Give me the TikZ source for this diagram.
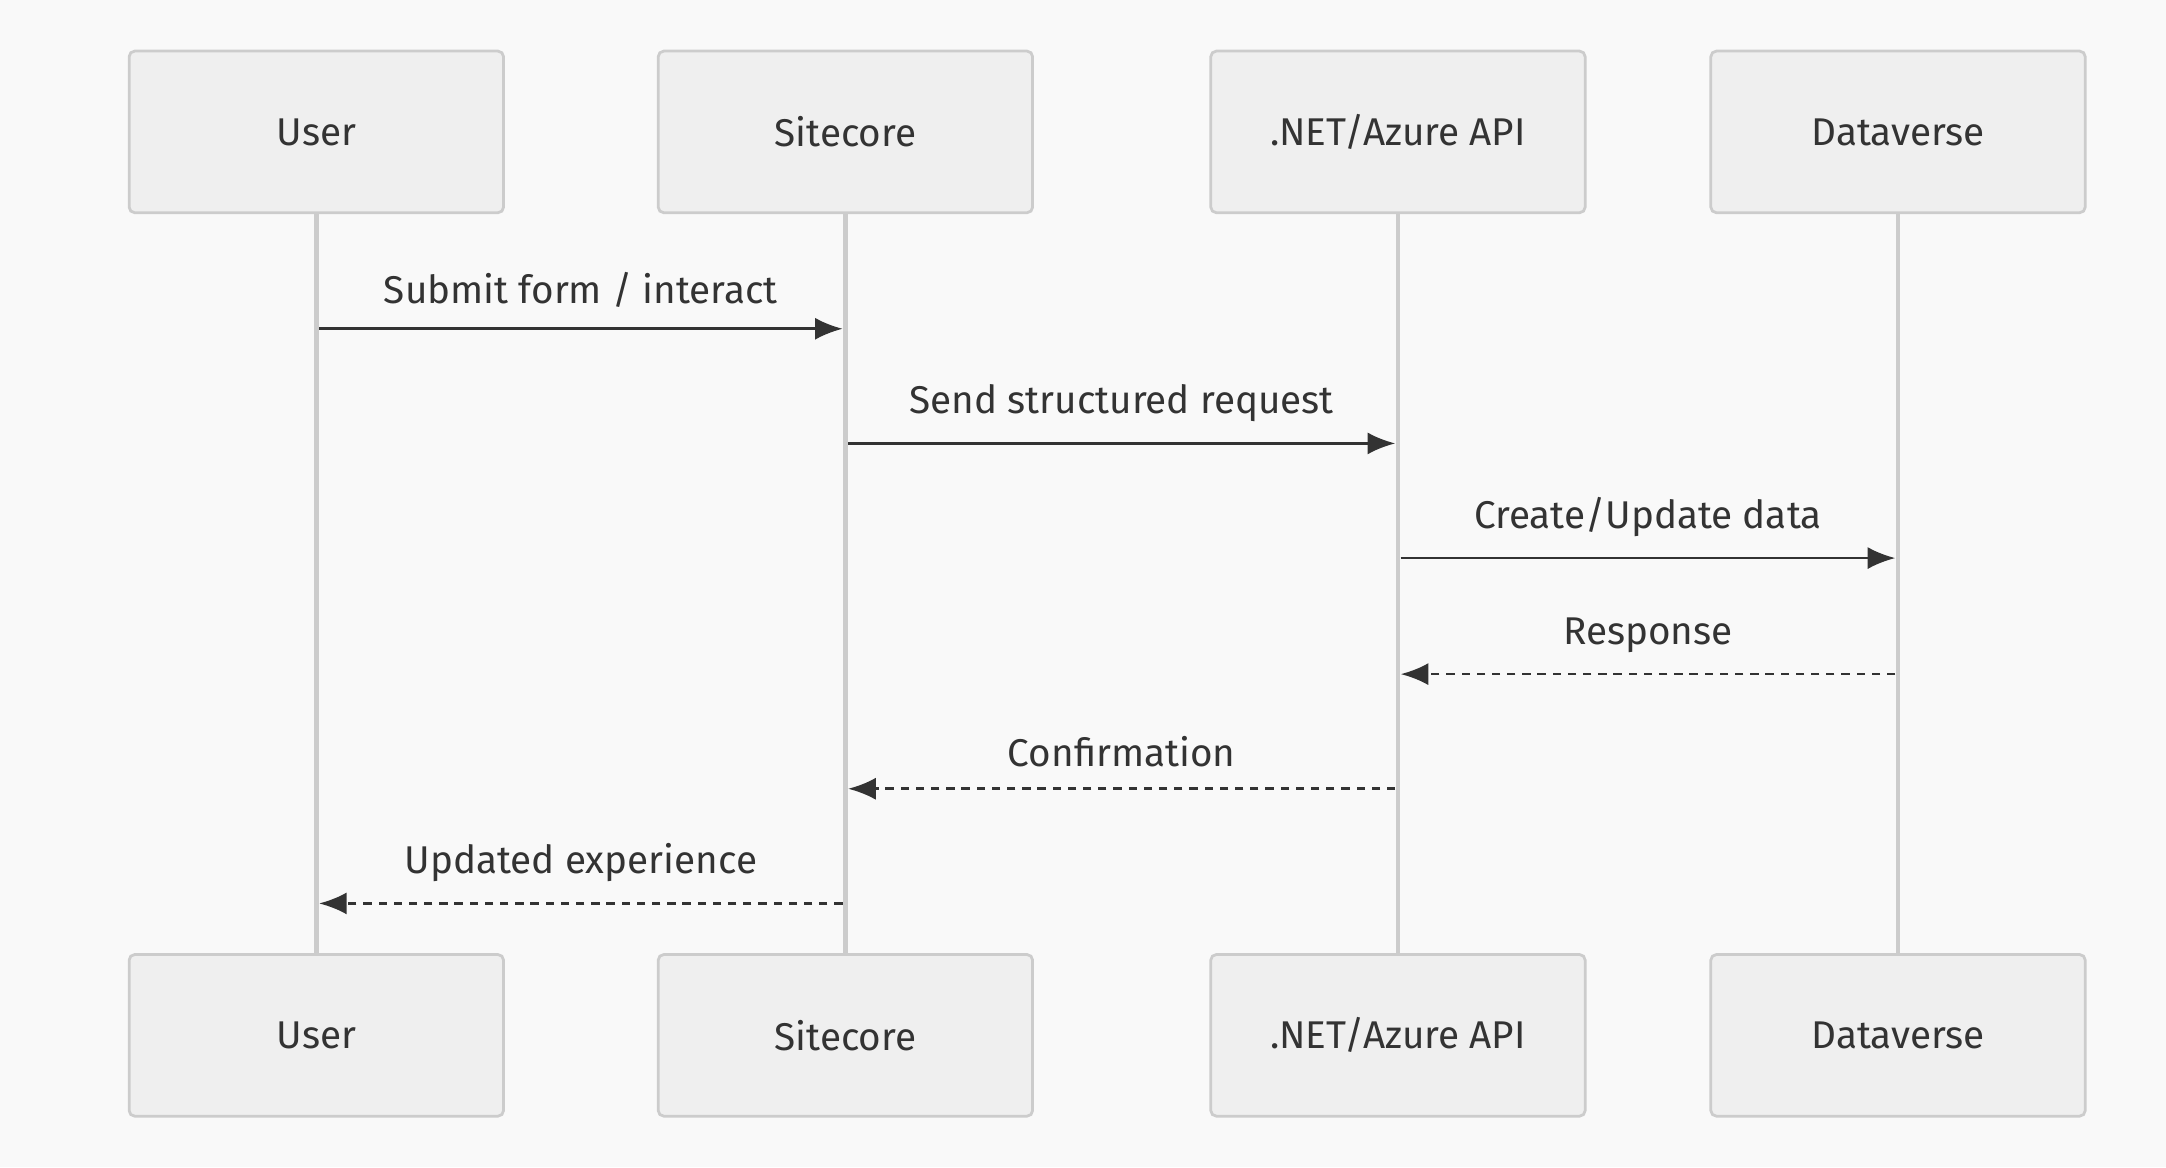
\documentclass[tikz,border=0pt]{standalone}
\usepackage{fontspec}
\setmainfont{Fira Sans}
\usetikzlibrary{positioning,arrows.meta}
\definecolor{bgcol}{HTML}{F9F9F9}
\definecolor{boxfill}{HTML}{EFEFEF}
\definecolor{boxline}{HTML}{CCCCCC}
\definecolor{msgcol}{HTML}{333333}
\tikzset{
  actor/.style={draw=boxline,fill=boxfill,line width=1pt,rounded corners=2pt,
    minimum width=135.5pt,minimum height=58.5pt,font=\fontsize{14}{16}\selectfont,
    text=msgcol},
  life/.style={draw=boxline,line width=1.6pt},
  msg/.style={draw=msgcol,line width=1pt,-{Latex[length=10pt,width=8pt]}},
  reply/.style={msg,dash pattern=on 3pt off 2.5pt},
  lbl/.style={font=\fontsize{14}{16}\selectfont,text=msgcol}
}
\begin{document}
\begin{tikzpicture}[x=0.5pt,y=-0.5pt]
\fill[bgcol] (0,0) rectangle (1568,845);
\useasboundingbox (0,0) rectangle (1568,845);
% Actors at top and bottom, plus lifelines
\foreach \n/\x/\t in {user/229/User,site/612/Sitecore,api/1012/{.NET/Azure API},dv/1374/Dataverse}{
  \draw[life] (\x,154) -- (\x,691);
  \node[actor] (\n-top) at (\x,95.5) {\t};
  \node[actor] (\n-bot) at (\x,749.5) {\t};
}
% Messages
\draw[msg] (231,238) -- node[lbl,above=4pt] {Submit form / interact} (610,238);
\draw[msg] (614,321) -- node[lbl,above=4pt] {Send structured request} (1010,321);
\draw[msg] (1014,404) -- node[lbl,above=4pt] {Create/Update data} (1372,404);
% Replies
\draw[reply] (1372,488) -- node[lbl,above=4pt] {Response} (1014,488);
\draw[reply] (1010,571) -- node[lbl,above=4pt] {Confirmation} (614,571);
\draw[reply] (610,654) -- node[lbl,above=4pt] {Updated experience} (231,654);
\end{tikzpicture}
\end{document}
